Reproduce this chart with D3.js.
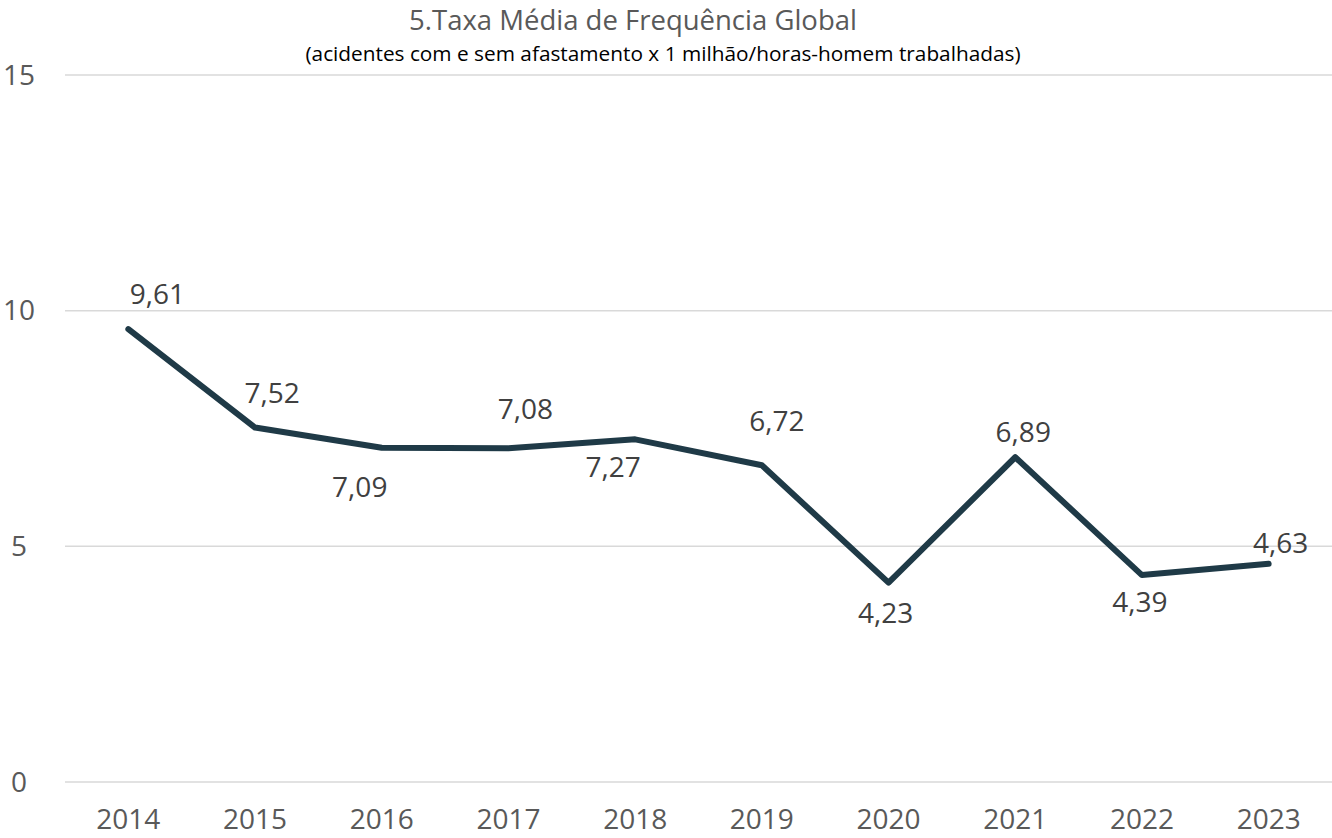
<!DOCTYPE html>
<html>
<head>
<meta charset="utf-8">
<script src="https://cdn.jsdelivr.net/npm/d3@7"></script>
<style>
    html, body { margin: 0; padding: 0; background: #ffffff; }
    #chart { width: 1332px; height: 838px; }
    text { font-family: "Open Sans", sans-serif; }
</style>
</head>
<body>
<div id="chart"></div>
<script>

    /*
    DATA
    */
    const years = ["2014","2015","2016","2017","2018","2019","2020","2021","2022","2023"];
    const rates = [9.61, 7.52, 7.09, 7.08, 7.27, 6.72, 4.23, 6.89, 4.39, 4.63];
    const yTicks = [0, 5, 10, 15];

    // where each data label sits relative to its point (dx, dy of the label centre)
    const labelOffset = [[29,-35],[17,-34],[-22,39],[17,-39],[-22,28],[15,-44],[-3,31],[8,-25],[-2,27],[12,-21]];

    const data = years.map(function(y, i) { return {year: y, value: rates[i]}; });

    /*
    DEFINE DIMENSIONS OF SVG + CREATE SVG CANVAS
    */
    const width = 1332;
    const height = 838;
    const margin = {top: 75, left: 65, right: 0, bottom: 56};

    const svg = d3.select("#chart")
        .append("svg")
        .attr("width", width)
        .attr("height", height);

    /*
    SCALES
    */
    const xScale = d3.scalePoint()
        .domain(years)
        .range([margin.left, width - margin.right])
        .padding(0.5);

    const yScale = d3.scaleLinear()
        .domain([0, 15])
        .range([height - margin.bottom, margin.top]);

    /*
    TITLE
    */
    svg.append("text")
        .attr("x", 633)
        .attr("y", 30)
        .attr("text-anchor", "middle")
        .attr("font-size", "27.5px")
        .attr("fill", "#595959")
        .text("5.Taxa Média de Frequência Global");

    svg.append("text")
        .attr("x", 663)
        .attr("y", 61)
        .attr("text-anchor", "middle")
        .attr("font-size", "20.8px")
        .attr("fill", "#000000")
        .text("(acidentes com e sem afastamento x 1 milhão/horas-homem trabalhadas)");

    /*
    GRIDLINES + Y LABELS
    */
    svg.append("g")
        .selectAll("line")
        .data(yTicks)
        .enter()
        .append("line")
            .attr("x1", margin.left)
            .attr("x2", width - margin.right)
            .attr("y1", function(d) { return yScale(d); })
            .attr("y2", function(d) { return yScale(d); })
            .attr("stroke", "#d9d9d9")
            .attr("stroke-width", 1.5);

    svg.append("g")
        .selectAll("text")
        .data(yTicks)
        .enter()
        .append("text")
            .attr("x", 19)
            .attr("y", function(d) { return yScale(d); })
            .attr("dy", "0.35em")
            .attr("text-anchor", "middle")
            .attr("font-size", "28px")
            .attr("fill", "#595959")
            .text(function(d) { return d; });

    /*
    X LABELS
    */
    svg.append("g")
        .selectAll("text")
        .data(years)
        .enter()
        .append("text")
            .attr("x", function(d) { return xScale(d); })
            .attr("y", 829)
            .attr("text-anchor", "middle")
            .attr("font-size", "28px")
            .attr("fill", "#595959")
            .text(function(d) { return d; });

    /*
    LINE
    */
    const line = d3.line()
        .x(function(d) { return xScale(d.year); })
        .y(function(d) { return yScale(d.value); })
        .curve(d3.curveLinear);

    svg.append("path")
        .datum(data)
        .attr("d", line)
        .attr("fill", "none")
        .attr("stroke", "#1f3a47")
        .attr("stroke-width", 6)
        .attr("stroke-linejoin", "round")
        .attr("stroke-linecap", "round");

    /*
    DATA LABELS
    */
    const fmt = d3.format(".2f");
    svg.append("g")
        .selectAll("text")
        .data(data)
        .enter()
        .append("text")
            .attr("x", function(d, i) { return xScale(d.year) + labelOffset[i][0]; })
            .attr("y", function(d, i) { return yScale(d.value) + labelOffset[i][1]; })
            .attr("dy", "0.35em")
            .attr("text-anchor", "middle")
            .attr("font-size", "28px")
            .attr("fill", "#404040")
            .text(function(d) { return fmt(d.value).replace(".", ","); });

</script>
</body>
</html>
